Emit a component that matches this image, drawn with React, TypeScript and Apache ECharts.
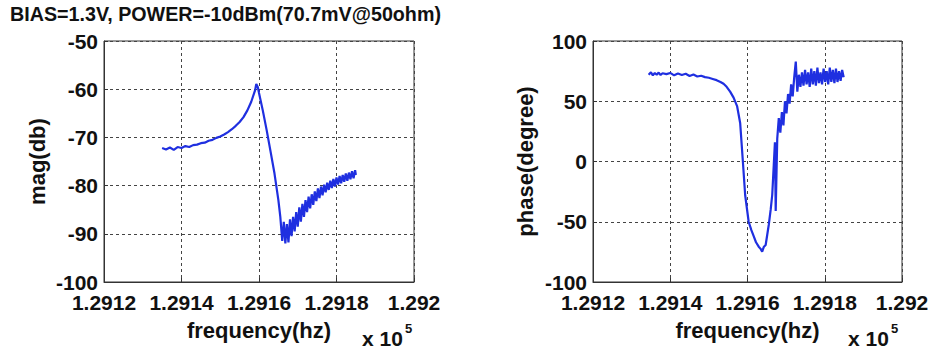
import React, { useEffect, useRef } from "react";
import * as echarts from "echarts";

const titleText = "BIAS=1.3V, POWER=-10dBm(70.7mV@50ohm)";
const xAxisName = "frequency(hz)";
const magAxisName = "mag(db)";
const phaseAxisName = "phase(degree)";
const xExponentBase = "x 10";
const xExponent = "5";

const xRange = [1.2912, 1.292, 0.0002];
const magRange = [-100, -50, 10];
const phaseRange = [-100, 100, 50];

// frequency in units of 1e5 Hz
const magFreq = [
  1.29135, 1.29136, 1.29137, 1.29138, 1.29139, 1.2914, 1.29141, 1.29142, 1.29143, 1.29144,
  1.29145, 1.29146, 1.29147, 1.29148, 1.29149, 1.2915, 1.29151, 1.29152, 1.29153, 1.29154,
  1.29155, 1.29156, 1.29157, 1.29158, 1.29159, 1.291593, 1.291597, 1.2916, 1.29161, 1.29162,
  1.29163, 1.29164, 1.29165, 1.291655,
  1.29166, 1.291664, 1.291668, 1.291672, 1.291676, 1.29168, 1.291684, 1.291688, 1.291692, 1.291696,
  1.2917, 1.291704, 1.291708, 1.291712, 1.291716, 1.29172, 1.291724, 1.291728, 1.291732, 1.291736,
  1.29174, 1.291744, 1.291748, 1.291752, 1.291756, 1.29176, 1.291764, 1.291768, 1.291772, 1.291776,
  1.29178, 1.291784, 1.291788, 1.291792, 1.291796, 1.2918, 1.291804, 1.291808, 1.291812, 1.291816,
  1.29182, 1.291824, 1.291828, 1.291832, 1.291836, 1.29184, 1.291844, 1.291848, 1.29185,
];
const magDb = [
  -72.2, -72.5, -72.1, -72.6, -72.0, -72.2, -71.8, -72.0, -71.6, -71.5,
  -71.2, -71.1, -70.7, -70.5, -70.1, -69.8, -69.4, -68.9, -68.3, -67.6,
  -66.8, -65.8, -64.4, -62.6, -60.2, -58.9, -59.6, -60.8, -64.5, -68.6,
  -73.0, -77.5, -83.0, -86.5,
  -91.5, -87.5, -92.0, -88.0, -91.8, -87.0, -90.5, -86.5, -89.5, -85.5,
  -88.5, -84.5, -87.5, -83.8, -86.5, -83.0, -85.5, -82.3, -84.7, -81.8,
  -84.0, -81.2, -83.2, -80.6, -82.6, -80.2, -82.0, -79.8, -81.4, -79.4,
  -80.9, -79.0, -80.5, -78.6, -80.2, -78.3, -79.8, -78.0, -79.5, -77.8,
  -79.2, -77.5, -79.0, -77.3, -78.7, -77.0, -78.5, -76.8, -77.8,
];

const phaseFreq = [
  1.291344, 1.29135, 1.291355, 1.29136, 1.291365, 1.29137, 1.291375, 1.29138, 1.29139, 1.2914,
  1.29141, 1.29142, 1.29143, 1.29144, 1.29145, 1.29146, 1.29147, 1.29148, 1.29149, 1.2915,
  1.29151, 1.29152, 1.29153, 1.291538, 1.291546, 1.291555, 1.291564, 1.291573, 1.291581, 1.291588,
  1.291594, 1.291603, 1.29161, 1.291616, 1.291622, 1.291629, 1.291634, 1.291638, 1.291642, 1.291647,
  1.291651, 1.291655, 1.29166, 1.291664, 1.291668, 1.291671, 1.291673,
  1.291677, 1.291681, 1.291685, 1.291689, 1.291693, 1.291697, 1.291701, 1.291705, 1.291709, 1.291713,
  1.291717, 1.291721, 1.291725, 1.291729, 1.291733, 1.291737, 1.291741, 1.291745, 1.291749, 1.291753,
  1.291757, 1.291761, 1.291765, 1.291769, 1.291773, 1.291777, 1.291781, 1.291785, 1.291789, 1.291793,
  1.291797, 1.291801, 1.291805, 1.291809, 1.291813, 1.291817, 1.291821, 1.291825, 1.291829, 1.291833,
  1.291837, 1.291841, 1.291845, 1.291849,
];
const phaseDeg = [
  72, 74, 71.5, 73.5, 72, 73.8, 71.8, 73.2, 72.5, 73.5,
  71.5, 73, 71.8, 72.8, 71, 72.2, 70.5, 71.2, 70, 69.5,
  68.5, 67.5, 66, 64.5, 62, 58, 53, 46, 32, 0,
  -28, -50, -57, -62, -67, -70.7, -72.5, -74.8, -71, -69.3,
  -61, -52.7, -40, -27.8, -3, 16, -41,
  19, 36, 24, 41, 30, 50, 40, 56, 48, 64,
  54, 70, 83, 58, 72, 62, 74, 63, 76, 64,
  74, 62, 77, 64, 75, 63, 78, 65, 74, 64,
  77, 66, 75, 64, 78, 66, 76, 65, 77, 66,
  75, 67, 76, 70,
];

const font = "'Liberation Sans', Arial, sans-serif";
const lineColor = "#1f2fe0";
const gridDash = { color: "#444", width: 1, type: [3, 3] as any };

function fmtFreq(v: number) {
  return String(parseFloat(v.toFixed(4)));
}

function xAxisCfg(gridIndex: number) {
  return {
    type: "value",
    gridIndex,
    min: xRange[0],
    max: xRange[1],
    interval: xRange[2],
    name: xAxisName,
    nameLocation: "middle",
    nameGap: 37,
    nameTextStyle: { fontFamily: font, fontWeight: "bold", fontSize: 22, color: "#111" },
    axisLine: { show: true, onZero: false, lineStyle: { color: "#333" } },
    axisTick: { show: true, inside: true, length: 4, lineStyle: { color: "#333" } },
    axisLabel: {
      formatter: fmtFreq,
      fontFamily: font,
      fontWeight: "bold",
      fontSize: 21,
      color: "#111",
      margin: 10,
      showMinLabel: true,
      showMaxLabel: true,
      hideOverlap: false,
    },
    splitLine: { show: true, lineStyle: gridDash },
  };
}

function yAxisCfg(gridIndex: number, range: number[], name: string, gap: number) {
  return {
    type: "value",
    gridIndex,
    min: range[0],
    max: range[1],
    interval: range[2],
    name,
    nameLocation: "middle",
    nameGap: gap,
    nameRotate: 90,
    nameTextStyle: { fontFamily: font, fontWeight: "bold", fontSize: 22, color: "#111" },
    axisLine: { show: true, onZero: false, lineStyle: { color: "#333" } },
    axisTick: { show: true, inside: true, length: 4, lineStyle: { color: "#333" } },
    axisLabel: {
      fontFamily: font,
      fontWeight: "bold",
      fontSize: 21,
      color: "#111",
      margin: 6,
      showMinLabel: true,
      showMaxLabel: true,
    },
    splitLine: { show: true, lineStyle: gridDash },
  };
}

export default function App() {
  const ref = useRef<HTMLDivElement>(null);

  useEffect(() => {
    if (!ref.current) return;
    const chart = echarts.init(ref.current, undefined, { renderer: "svg" });
    const magData = magFreq.map((f, i) => [f, magDb[i]]);
    const phaseData = phaseFreq.map((f, i) => [f, phaseDeg[i]]);
    const textStyle = (extra: any) => ({
      fontFamily: font,
      fontWeight: "bold",
      fill: "#111",
      ...extra,
    });
    chart.setOption({
      animation: false,
      backgroundColor: "#fff",
      grid: [
        { left: 104, top: 41, width: 310, height: 241, show: true, borderColor: "#333", borderWidth: 1, backgroundColor: "transparent" },
        { left: 593, top: 41, width: 309, height: 241, show: true, borderColor: "#333", borderWidth: 1, backgroundColor: "transparent" },
      ],
      xAxis: [xAxisCfg(0), xAxisCfg(1)],
      yAxis: [yAxisCfg(0, magRange, magAxisName, 56), yAxisCfg(1, phaseRange, phaseAxisName, 57)],
      series: [
        {
          type: "line",
          xAxisIndex: 0,
          yAxisIndex: 0,
          data: magData,
          showSymbol: false,
          lineStyle: { color: lineColor, width: 2.2 },
          itemStyle: { color: lineColor },
        },
        {
          type: "line",
          xAxisIndex: 1,
          yAxisIndex: 1,
          data: phaseData,
          showSymbol: false,
          lineStyle: { color: lineColor, width: 2.2 },
          itemStyle: { color: lineColor },
        },
      ],
      graphic: [
        { type: "text", x: 10, y: 14, style: textStyle({ text: titleText, fontSize: 19.7, textVerticalAlign: "middle" }) },
        { type: "text", x: 362, y: 338, style: textStyle({ text: xExponentBase, fontSize: 21, textVerticalAlign: "middle" }) },
        { type: "text", x: 405, y: 328, style: textStyle({ text: xExponent, fontSize: 13, textVerticalAlign: "middle" }) },
        { type: "text", x: 848, y: 338, style: textStyle({ text: xExponentBase, fontSize: 21, textVerticalAlign: "middle" }) },
        { type: "text", x: 891, y: 328, style: textStyle({ text: xExponent, fontSize: 13, textVerticalAlign: "middle" }) },
      ],
    });
    return () => chart.dispose();
  }, []);

  return (
    <div
      ref={ref}
      style={{ position: "fixed", left: 0, top: 0, width: 936, height: 353, background: "#fff" }}
    />
  );
}
